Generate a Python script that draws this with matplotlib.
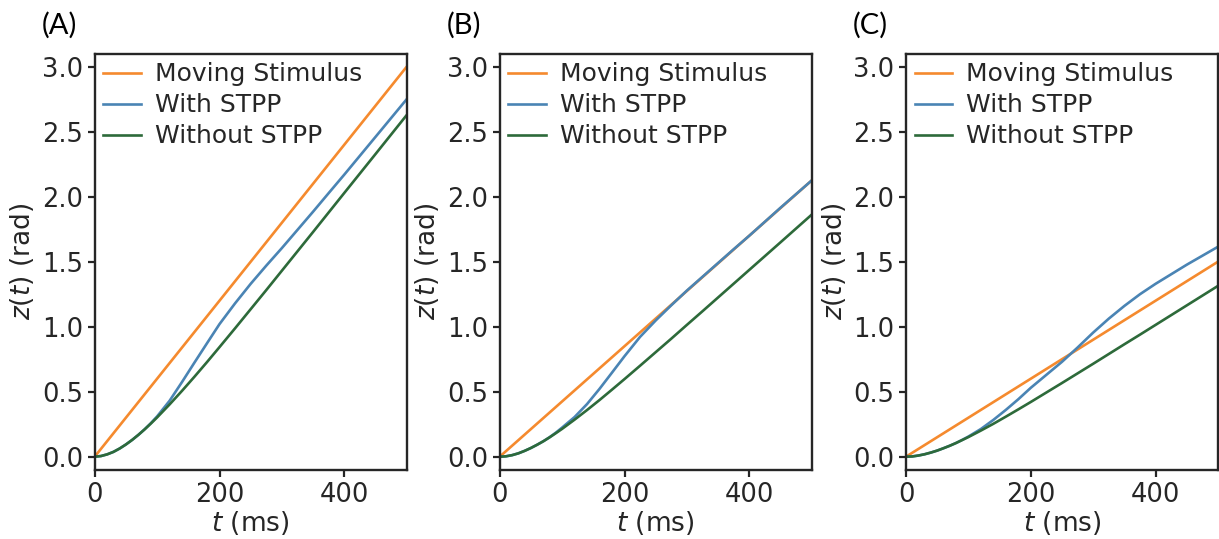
import matplotlib
matplotlib.use("Agg")
import matplotlib.pyplot as plt

# ---- data ----
t_ms = [0, 10, 20, 30, 40, 50, 60, 70, 80, 90, 100, 120, 140, 160, 180, 200,
        225, 250, 275, 300, 325, 350, 375, 400, 450, 500]

stim_t = [0, 500]
stim_A = [0.0, 3.0]
stim_B = [0.0, 2.125]
stim_C = [0.0, 1.5]

with_A = [0.0, 0.005, 0.018, 0.037, 0.063, 0.094, 0.129, 0.168, 0.211, 0.258,
          0.31, 0.43, 0.575, 0.725, 0.873, 1.02, 1.18, 1.33, 1.47, 1.605,
          1.745, 1.885, 2.028, 2.17, 2.46, 2.75]
without_A = [0.0, 0.005, 0.018, 0.037, 0.063, 0.094, 0.129, 0.168, 0.210, 0.255,
             0.302, 0.402, 0.507, 0.616, 0.728, 0.843, 0.988, 1.135, 1.282, 1.431,
             1.580, 1.729, 1.879, 2.029, 2.328, 2.628]

with_B = [0.0, 0.003, 0.012, 0.026, 0.045, 0.067, 0.092, 0.119, 0.150, 0.185,
          0.224, 0.305, 0.405, 0.522, 0.647, 0.773, 0.922, 1.048, 1.165, 1.278,
          1.384, 1.49, 1.596, 1.70, 1.915, 2.125]
without_B = [0.0, 0.003, 0.012, 0.026, 0.045, 0.067, 0.092, 0.119, 0.149, 0.181,
             0.214, 0.285, 0.359, 0.436, 0.516, 0.597, 0.700, 0.804, 0.908, 1.014,
             1.119, 1.225, 1.331, 1.437, 1.649, 1.862]

with_C = [0.0, 0.002, 0.009, 0.019, 0.032, 0.047, 0.065, 0.084, 0.105, 0.129,
          0.155, 0.213, 0.283, 0.36, 0.442, 0.53, 0.63, 0.73, 0.84, 0.955,
          1.062, 1.16, 1.25, 1.33, 1.477, 1.615]
without_C = [0.0, 0.002, 0.009, 0.019, 0.032, 0.047, 0.065, 0.084, 0.105, 0.128,
             0.151, 0.201, 0.253, 0.308, 0.364, 0.421, 0.494, 0.567, 0.641, 0.715,
             0.790, 0.865, 0.939, 1.014, 1.164, 1.314]

panel_labels = ["(A)", "(B)", "(C)"]
legend_labels = ["Moving Stimulus", "With STPP", "Without STPP"]
x_ticks = [0, 200, 400]
y_ticks = [0.0, 0.5, 1.0, 1.5, 2.0, 2.5, 3.0]

# ---- style ----
c_stim = "#f58a2e"
c_with = "#4a84b4"
c_without = "#2d6a3a"
txt = "#262626"
fs_tick = 18.5
fs_lab = 19
fs_leg = 18

plt.rcParams["font.family"] = ["DejaVu Sans"]
plt.rcParams["mathtext.fontset"] = "dejavusans"

W, H = 1219, 539
fig = plt.figure(figsize=(W / 100, H / 100), dpi=100)

lefts = [94.7, 499.7, 906.0]
ax_w = 312.0
ax_top, ax_bot = 53.7, 469.7

panels = [
    (stim_A, with_A, without_A),
    (stim_B, with_B, without_B),
    (stim_C, with_C, without_C),
]

for i, (stim, w, wo) in enumerate(panels):
    ax = fig.add_axes([lefts[i] / W, 1 - ax_bot / H, ax_w / W, (ax_bot - ax_top) / H])
    ax.plot(stim_t, stim, color=c_stim, lw=1.9, label=legend_labels[0])
    ax.plot(t_ms, w, color=c_with, lw=1.9, label=legend_labels[1])
    ax.plot(t_ms, wo, color=c_without, lw=1.9, label=legend_labels[2])
    ax.set_xlim(0, 500)
    ax.set_ylim(-0.1, 3.1)
    ax.set_xticks(x_ticks)
    ax.set_yticks(y_ticks)
    ax.set_yticklabels([f"{v:.1f}" for v in y_ticks])
    ax.tick_params(labelsize=fs_tick, colors=txt, width=1.6, length=5, direction="out")
    for s in ax.spines.values():
        s.set_linewidth(1.7)
        s.set_color(txt)
    ax.set_xlabel("$t$ (ms)", fontsize=fs_lab, color=txt, labelpad=1)
    ax.set_ylabel("$z(t)$ (rad)", fontsize=fs_lab, color=txt, labelpad=4)
    leg = ax.legend(loc="upper left", frameon=False, fontsize=fs_leg,
                    handlelength=1.5, handletextpad=0.55, labelspacing=0.28,
                    borderaxespad=0.0, borderpad=0.35)
    for tx in leg.get_texts():
        tx.set_color(txt)
    fig.text((lefts[i] - 53) / W, 1 - 25 / H, panel_labels[i], fontsize=21,
             family=["Lato", "DejaVu Sans"], color="black", ha="left", va="center")

fig.savefig("out.png", dpi=100)
